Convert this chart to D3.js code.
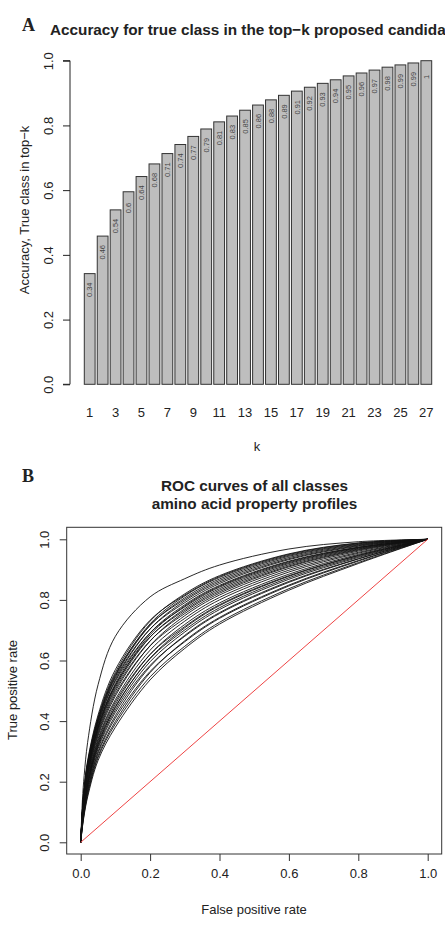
<!DOCTYPE html>
<html>
<head>
<meta charset="utf-8">
<script src="https://cdn.jsdelivr.net/npm/d3@7"></script>
<style>
  html, body { margin: 0; padding: 0; background: #fff; overflow: hidden; }
  svg text { font-family: "Liberation Sans", Arial, sans-serif; fill: #222; }
</style>
</head>
<body>
<div id="chart"></div>
<script>
// panel A: accuracy of true class within top-k
const kValues = d3.range(1, 28);
const accuracy = [0.342, 0.458, 0.539, 0.595, 0.642, 0.681, 0.713, 0.741, 0.766, 0.789,
  0.811, 0.829, 0.847, 0.863, 0.879, 0.893, 0.906, 0.918, 0.930, 0.941,
  0.953, 0.962, 0.971, 0.980, 0.987, 0.993, 1.0];
const accLabels = ["0.34", "0.46", "0.54", "0.6", "0.64", "0.68", "0.71", "0.74", "0.77", "0.79",
  "0.81", "0.83", "0.85", "0.86", "0.88", "0.89", "0.91", "0.92", "0.93", "0.94",
  "0.95", "0.96", "0.97", "0.98", "0.99", "0.99", "1"];
const yTicksA = [0, 0.2, 0.4, 0.6, 0.8, 1.0];

// panel B: ROC curves, TPR read at these FPR points
const fpr = [0, 0.005, 0.01, 0.02, 0.05, 0.1, 0.2, 0.3, 0.4, 0.6, 0.8, 1];
const rocCurves = [
  [0, 0.140, 0.220, 0.330, 0.520, 0.680, 0.810, 0.870, 0.915, 0.968, 0.992, 1],
  [0, 0.110, 0.180, 0.270, 0.420, 0.570, 0.733, 0.816, 0.877, 0.950, 0.987, 1],
  [0, 0.107, 0.176, 0.264, 0.413, 0.561, 0.730, 0.820, 0.880, 0.952, 0.988, 1],
  [0, 0.105, 0.173, 0.260, 0.408, 0.555, 0.717, 0.802, 0.864, 0.940, 0.981, 1],
  [0, 0.103, 0.169, 0.256, 0.402, 0.547, 0.716, 0.807, 0.869, 0.944, 0.983, 1],
  [0, 0.104, 0.171, 0.258, 0.405, 0.551, 0.721, 0.813, 0.874, 0.947, 0.985, 1],
  [0, 0.101, 0.167, 0.252, 0.398, 0.542, 0.704, 0.791, 0.854, 0.933, 0.977, 1],
  [0, 0.099, 0.164, 0.248, 0.393, 0.536, 0.704, 0.797, 0.859, 0.936, 0.979, 1],
  [0, 0.098, 0.162, 0.246, 0.390, 0.532, 0.691, 0.777, 0.842, 0.923, 0.972, 1],
  [0, 0.096, 0.158, 0.241, 0.384, 0.524, 0.691, 0.784, 0.848, 0.928, 0.974, 1],
  [0, 0.094, 0.156, 0.238, 0.380, 0.519, 0.678, 0.766, 0.832, 0.916, 0.968, 1],
  [0, 0.093, 0.155, 0.236, 0.378, 0.517, 0.685, 0.780, 0.845, 0.926, 0.973, 1],
  [0, 0.091, 0.152, 0.233, 0.374, 0.511, 0.677, 0.771, 0.837, 0.920, 0.970, 1],
  [0, 0.090, 0.149, 0.229, 0.369, 0.505, 0.665, 0.755, 0.822, 0.909, 0.964, 1],
  [0, 0.087, 0.146, 0.224, 0.363, 0.498, 0.664, 0.761, 0.827, 0.912, 0.966, 1],
  [0, 0.085, 0.142, 0.220, 0.357, 0.490, 0.648, 0.739, 0.808, 0.898, 0.957, 1],
  [0, 0.082, 0.139, 0.215, 0.351, 0.483, 0.649, 0.748, 0.816, 0.904, 0.961, 1],
  [0, 0.079, 0.133, 0.208, 0.342, 0.471, 0.634, 0.730, 0.800, 0.892, 0.954, 1],
  [0, 0.076, 0.130, 0.203, 0.336, 0.464, 0.620, 0.712, 0.784, 0.880, 0.947, 1],
  [0, 0.074, 0.126, 0.198, 0.330, 0.456, 0.620, 0.719, 0.790, 0.885, 0.950, 1],
  [0, 0.072, 0.122, 0.193, 0.324, 0.448, 0.606, 0.701, 0.774, 0.873, 0.943, 1],
  [0, 0.070, 0.121, 0.191, 0.321, 0.445, 0.608, 0.708, 0.781, 0.878, 0.946, 1],
  [0, 0.068, 0.117, 0.186, 0.315, 0.437, 0.596, 0.694, 0.768, 0.868, 0.940, 1],
  [0, 0.066, 0.113, 0.181, 0.309, 0.429, 0.584, 0.680, 0.755, 0.858, 0.935, 1],
  [0, 0.062, 0.108, 0.174, 0.300, 0.418, 0.580, 0.683, 0.758, 0.861, 0.936, 1],
  [0, 0.060, 0.104, 0.169, 0.294, 0.410, 0.564, 0.662, 0.739, 0.846, 0.928, 1],
  [0, 0.056, 0.099, 0.162, 0.285, 0.399, 0.560, 0.665, 0.742, 0.849, 0.930, 1],
  [0, 0.054, 0.095, 0.157, 0.279, 0.391, 0.546, 0.647, 0.726, 0.837, 0.923, 1],
  [0, 0.050, 0.090, 0.150, 0.270, 0.380, 0.536, 0.640, 0.720, 0.832, 0.920, 1]
];
const ticksB = [0, 0.2, 0.4, 0.6, 0.8, 1.0];

const width = 445, height = 927;
const svg = d3.select("#chart").append("svg")
  .attr("width", width)
  .attr("height", height);

// ---------- panel A ----------
svg.append("text").text("A")
  .attr("x", 22).attr("y", 31)
  .style("font-family", "'Liberation Serif', 'Times New Roman', serif")
  .style("font-weight", "bold").style("font-size", "18px");

// the reference image is cropped right after "candida"
svg.append("text").text("Accuracy for true class in the top\u2212k proposed candida")
  .attr("x", 50).attr("y", 35)
  .style("font-weight", "bold").style("font-size", "15.3px");

// barplot coordinates like R: bar i spans [0.2 + 1.2(i-1), +1]
const xA = d3.scaleLinear().domain([0.2, 32.4]).range([84.3, 431.7]);
const yA = d3.scaleLinear().domain([0, 1]).range([384.3, 60.7]);
const barLeft = (i) => 0.2 + 1.2 * i;

const gA = svg.append("g");

gA.selectAll("rect.bar")
  .data(accuracy)
  .join("rect")
  .attr("class", "bar")
  .attr("x", (d, i) => xA(barLeft(i)))
  .attr("width", (d, i) => xA(barLeft(i) + 1) - xA(barLeft(i)))
  .attr("y", (d) => yA(d))
  .attr("height", (d) => yA(0) - yA(d))
  .attr("fill", "#bebebe")
  .attr("stroke", "#333")
  .attr("stroke-width", 1);

gA.selectAll("text.val")
  .data(accuracy)
  .join("text")
  .attr("class", "val")
  .attr("transform", (d, i) => `translate(${xA(barLeft(i) + 0.5) + 2.7},${yA(d - 0.05)}) rotate(-90)`)
  .attr("text-anchor", "middle")
  .style("font-size", "7.5px")
  .style("fill", "#444")
  .text((d, i) => accLabels[i]);

// y axis
const yAxisA = d3.axisLeft(yA).tickValues(yTicksA).tickSize(7).tickFormat(d3.format(".1f"));
const gyA = gA.append("g").attr("transform", "translate(70,0)").call(yAxisA);
gyA.select(".domain").attr("stroke", "#222").attr("d", `M-7,${yA(0)}H0V${yA(1)}H-7`);
gyA.selectAll(".tick line").attr("stroke", "#222");
gyA.selectAll(".tick text")
  .attr("x", 0).attr("y", 0).attr("dy", null)
  .attr("text-anchor", "middle")
  .attr("transform", "translate(-17,0) rotate(-90)")
  .style("font-size", "13px").style("fill", "#222");

// x names, only odd k shown (as R drops overlapping labels)
gA.selectAll("text.kname")
  .data(kValues.filter((k) => k % 2 === 1))
  .join("text")
  .attr("class", "kname")
  .attr("x", (k) => xA(barLeft(k - 1) + 0.5))
  .attr("y", 417)
  .attr("text-anchor", "middle")
  .style("font-size", "13px")
  .text((k) => k);

gA.append("text").text("k")
  .attr("x", 257).attr("y", 451)
  .attr("text-anchor", "middle").style("font-size", "13px");

gA.append("text").text("Accuracy, True class in top\u2212k")
  .attr("transform", "translate(29,210) rotate(-90)")
  .attr("text-anchor", "middle").style("font-size", "13px");

// ---------- panel B ----------
svg.append("text").text("B")
  .attr("x", 22).attr("y", 482)
  .style("font-family", "'Liberation Serif', 'Times New Roman', serif")
  .style("font-weight", "bold").style("font-size", "18px");

svg.append("text").text("ROC curves of all classes")
  .attr("x", 254.5).attr("y", 491)
  .attr("text-anchor", "middle")
  .style("font-weight", "bold").style("font-size", "15.3px");
svg.append("text").text("amino acid property profiles")
  .attr("x", 254.5).attr("y", 509)
  .attr("text-anchor", "middle")
  .style("font-weight", "bold").style("font-size", "15.3px");

const xB = d3.scaleLinear().domain([0, 1]).range([80.7, 427.7]);
const yB = d3.scaleLinear().domain([0, 1]).range([842.3, 539.3]);

const gB = svg.append("g");

gB.append("rect")
  .attr("x", 66.7).attr("y", 527.3)
  .attr("width", 441.7 - 66.7).attr("height", 854 - 527.3)
  .attr("fill", "none").attr("stroke", "#333").attr("stroke-width", 1);

const rocLine = d3.line()
  .x((d, i) => xB(fpr[i]))
  .y((d) => yB(d))
  .curve(d3.curveCatmullRom.alpha(0.5));

gB.selectAll("path.roc")
  .data(rocCurves)
  .join("path")
  .attr("class", "roc")
  .attr("d", rocLine)
  .attr("fill", "none")
  .attr("stroke", "#111")
  .attr("stroke-width", 0.9);

gB.append("path")
  .datum([0, 1])
  .attr("d", d3.line().x((d) => xB(d)).y((d) => yB(d)))
  .attr("stroke", "#ee4444")
  .attr("stroke-width", 1)
  .attr("fill", "none");

const xAxisB = d3.axisBottom(xB).tickValues(ticksB).tickSize(7).tickFormat(d3.format(".1f"));
const gxB = gB.append("g").attr("transform", "translate(0,854)").call(xAxisB);
gxB.select(".domain").remove();
gxB.selectAll(".tick line").attr("stroke", "#333");
gxB.selectAll(".tick text").attr("y", 24).attr("dy", null)
  .style("font-size", "13px").style("fill", "#222");

const yAxisB = d3.axisLeft(yB).tickValues(ticksB).tickSize(7).tickFormat(d3.format(".1f"));
const gyB = gB.append("g").attr("transform", "translate(66.7,0)").call(yAxisB);
gyB.select(".domain").remove();
gyB.selectAll(".tick line").attr("stroke", "#333");
gyB.selectAll(".tick text")
  .attr("x", 0).attr("y", 0).attr("dy", null)
  .attr("text-anchor", "middle")
  .attr("transform", "translate(-17.5,0) rotate(-90)")
  .style("font-size", "13px").style("fill", "#222");

gB.append("text").text("False positive rate")
  .attr("x", 254).attr("y", 914)
  .attr("text-anchor", "middle").style("font-size", "13px");

gB.append("text").text("True positive rate")
  .attr("transform", "translate(17,690) rotate(-90)")
  .attr("text-anchor", "middle").style("font-size", "13px");
</script>
</body>
</html>
